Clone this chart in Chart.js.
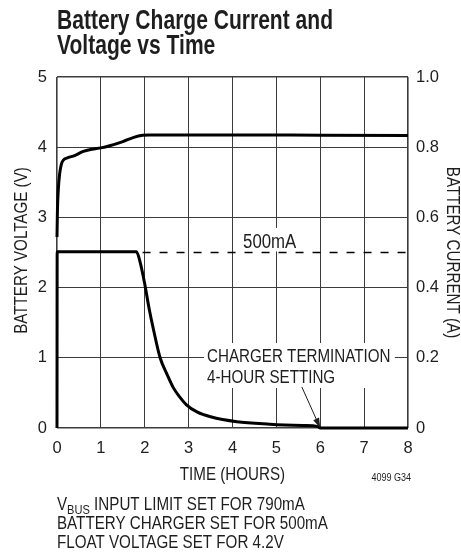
<!DOCTYPE html>
<html lang="en">
<head>
  <meta charset="UTF-8">
  <title>Battery Charge Current and Voltage vs Time</title>
  <script src="https://cdn.jsdelivr.net/npm/chart.js"></script>
  <style>
    html, body { margin: 0; padding: 0; background: #fff; }
    #wrap { width: 461px; height: 557px; }
  </style>
</head>
<body>
  <div id="wrap"><canvas id="chart" width="461" height="557"></canvas></div>

  <script>
    // Battery voltage (left axis, V) vs time (hours)
    const voltageTime   = [0, 0.01, 0.03, 0.06, 0.1, 0.15, 0.25, 0.4, 0.6, 0.8, 1.0, 1.2, 1.5, 1.75, 1.95, 2.1, 4, 6, 8];
    const voltageValues = [2.72, 3.1, 3.4, 3.62, 3.76, 3.82, 3.85, 3.88, 3.94, 3.97, 3.99, 4.02, 4.08, 4.14, 4.17, 4.175, 4.175, 4.17, 4.165];

    // Battery charge current (right axis, A) vs time (hours)
    const currentTime   = [0, 0.004, 1.81, 1.9, 2.0, 2.1, 2.2, 2.35, 2.5, 2.65, 2.8, 2.95, 3.2, 3.5, 4.1, 4.85, 5.6, 5.95, 6.0, 8];
    const currentValues = [0, 0.502, 0.502, 0.47, 0.41, 0.34, 0.28, 0.2, 0.155, 0.115, 0.088, 0.066, 0.045, 0.032, 0.018, 0.011, 0.007, 0.004, 0, 0];

    // 500mA charger setting (dashed reference)
    const limitTime   = [1.95, 8];
    const limitValues = [0.5, 0.5];

    // axis ranges / tick labels
    const hourRange = [0, 8];
    const voltRange = [0, 5];
    const ampRange  = [0, 1];
    const ampLabels = ['0', '0.2', '0.4', '0.6', '0.8', '1.0'];

    const axisTitles = { x: 'TIME (HOURS)', y: 'BATTERY VOLTAGE (V)', y1: 'BATTERY CURRENT (A)' };

    const footnotes = [
      ['V', 'BUS', ' INPUT LIMIT SET FOR 790mA'],
      ['BATTERY CHARGER SET FOR 500mA'],
      ['FLOAT VOLTAGE SET FOR 4.2V']
    ];

    // no narrow face installed, so condensed text is squeezed by hand
    const FAM = "'Liberation Sans', Arial, sans-serif";
    const SX = 0.82;
    const INK = '#1e1e1e';
    const GRID = '#3c3c3c';

    const toXY = (xs, ys) => xs.map((x, i) => ({ x, y: ys[i] }));

    function narrowText(ctx, s, x, y, align, rot) {
      ctx.save();
      ctx.translate(x, y);
      if (rot) ctx.rotate(rot);
      ctx.scale(SX, 1);
      ctx.textAlign = align || 'left';
      ctx.fillText(s, 0, 0);
      ctx.restore();
    }

    const decor = {
      id: 'decor',
      beforeDatasetsDraw(chart) {
        const { ctx, scales: { x, y1 } } = chart;
        ctx.save();
        ctx.fillStyle = '#fff';
        // white boxes behind the annotation texts (gridlines broken there)
        const boxes = [[4.125, 5.65, 0.57, 0.503], [3.35, 7.70, 0.242, 0.114]];
        boxes.forEach(([h0, h1, a0, a1]) => {
          const l = x.getPixelForValue(h0), r = x.getPixelForValue(h1);
          const t = y1.getPixelForValue(a0), b = y1.getPixelForValue(a1);
          ctx.fillRect(l, t, r - l, b - t);
        });
        ctx.restore();
      },
      afterDraw(chart) {
        const { ctx, chartArea: ca, scales: { x, y1 } } = chart;
        const midY = (ca.top + ca.bottom) / 2;
        ctx.save();
        ctx.fillStyle = INK;
        ctx.strokeStyle = INK;
        ctx.textBaseline = 'alphabetic';

        // chart title, squeezed to the condensed width of the original
        ctx.font = 'bold 27px ' + FAM;
        const sx = 276 / ctx.measureText('Battery Charge Current and').width;
        [['Battery Charge Current and', 28.5], ['Voltage vs Time', 53.5]].forEach(([t, by]) => {
          ctx.save();
          ctx.translate(57, by);
          ctx.scale(sx, 1);
          ctx.textAlign = 'left';
          ctx.fillText(t, 0, 0);
          ctx.restore();
        });

        // axis titles
        ctx.font = '18.5px ' + FAM;
        narrowText(ctx, axisTitles.x, (ca.left + ca.right) / 2, 480, 'center');
        narrowText(ctx, axisTitles.y, 27, midY - 2, 'center', -Math.PI / 2);
        narrowText(ctx, axisTitles.y1, 447, midY, 'center', Math.PI / 2);

        // annotations
        narrowText(ctx, 'CHARGER TERMINATION', x.getPixelForValue(3.42), y1.getPixelForValue(0.188));
        narrowText(ctx, '4-HOUR SETTING', x.getPixelForValue(3.42), y1.getPixelForValue(0.128));
        ctx.font = '20.5px ' + FAM;
        narrowText(ctx, '500mA', x.getPixelForValue(4.24), y1.getPixelForValue(0.513));

        // arrow to the 6 hour termination point
        const ax0 = x.getPixelForValue(5.58), ay0 = y1.getPixelForValue(0.117);
        const ax1 = x.getPixelForValue(6), ay1 = y1.getPixelForValue(0);
        const ang = Math.atan2(ay1 - ay0, ax1 - ax0);
        ctx.lineWidth = 1;
        ctx.beginPath();
        ctx.moveTo(ax0, ay0);
        ctx.lineTo(ax1 - 8 * Math.cos(ang), ay1 - 8 * Math.sin(ang));
        ctx.stroke();
        ctx.beginPath();
        ctx.moveTo(ax1, ay1);
        ctx.lineTo(ax1 - 10 * Math.cos(ang) + 3.2 * Math.sin(ang), ay1 - 10 * Math.sin(ang) - 3.2 * Math.cos(ang));
        ctx.lineTo(ax1 - 10 * Math.cos(ang) - 3.2 * Math.sin(ang), ay1 - 10 * Math.sin(ang) + 3.2 * Math.cos(ang));
        ctx.closePath();
        ctx.fill();

        // drawing code
        ctx.font = '11px ' + FAM;
        narrowText(ctx, '4099 G34', 411, 481, 'right');

        // footnotes
        footnotes.forEach((parts, i) => {
          const by = 510 + i * 19;
          let cx = 57;
          parts.forEach((p, j) => {
            const sub = parts.length > 1 && j === 1;
            ctx.font = (sub ? '13.5px ' : '18.5px ') + FAM;
            narrowText(ctx, p, cx, by + (sub ? 3.5 : 0));
            cx += ctx.measureText(p).width * SX;
          });
        });
        ctx.restore();
      }
    };

    const edgeWidth = (lo, hi) => c => (c.tick.value === lo || c.tick.value === hi) ? 1.6 : 1;
    const tickFont = { family: FAM, size: 16.5 };

    new Chart(document.getElementById('chart'), {
      type: 'line',
      data: {
        datasets: [
          {
            label: 'Battery voltage',
            data: toXY(voltageTime, voltageValues),
            yAxisID: 'y',
            borderColor: '#000',
            borderWidth: 3,
            pointRadius: 0,
            cubicInterpolationMode: 'monotone',
            clip: false
          },
          {
            label: 'Battery current',
            data: toXY(currentTime, currentValues),
            yAxisID: 'y1',
            borderColor: '#000',
            borderWidth: 3,
            pointRadius: 0,
            cubicInterpolationMode: 'monotone',
            clip: false
          },
          {
            label: '500mA',
            data: toXY(limitTime, limitValues),
            yAxisID: 'y1',
            borderColor: '#000',
            borderWidth: 1.4,
            borderDash: [8, 9],
            pointRadius: 0,
            clip: false
          }
        ]
      },
      options: {
        responsive: false,
        animation: false,
        events: [],
        layout: { padding: { top: 77, left: 0, right: 0, bottom: 0 } },
        plugins: { legend: { display: false }, title: { display: false }, tooltip: { enabled: false } },
        scales: {
          x: {
            type: 'linear',
            min: hourRange[0], max: hourRange[1],
            afterFit: s => { s.height = 129; },
            ticks: { stepSize: 1, padding: 11, color: INK, font: tickFont },
            grid: { color: GRID, lineWidth: edgeWidth(0, 8), drawTicks: false },
            border: { display: false }
          },
          y: {
            position: 'left',
            min: voltRange[0], max: voltRange[1],
            afterFit: s => { s.width = 57; },
            ticks: { stepSize: 1, padding: 10, color: INK, font: tickFont },
            grid: { color: GRID, lineWidth: edgeWidth(0, 5), drawTicks: false },
            border: { display: false }
          },
          y1: {
            position: 'right',
            min: ampRange[0], max: ampRange[1],
            afterFit: s => { s.width = 53; },
            ticks: {
              stepSize: 0.2, padding: 8, color: INK, font: tickFont,
              callback: (v, i) => ampLabels[i]
            },
            grid: { display: false, drawTicks: false },
            border: { display: false }
          }
        }
      },
      plugins: [decor]
    });
  </script>
</body>
</html>
